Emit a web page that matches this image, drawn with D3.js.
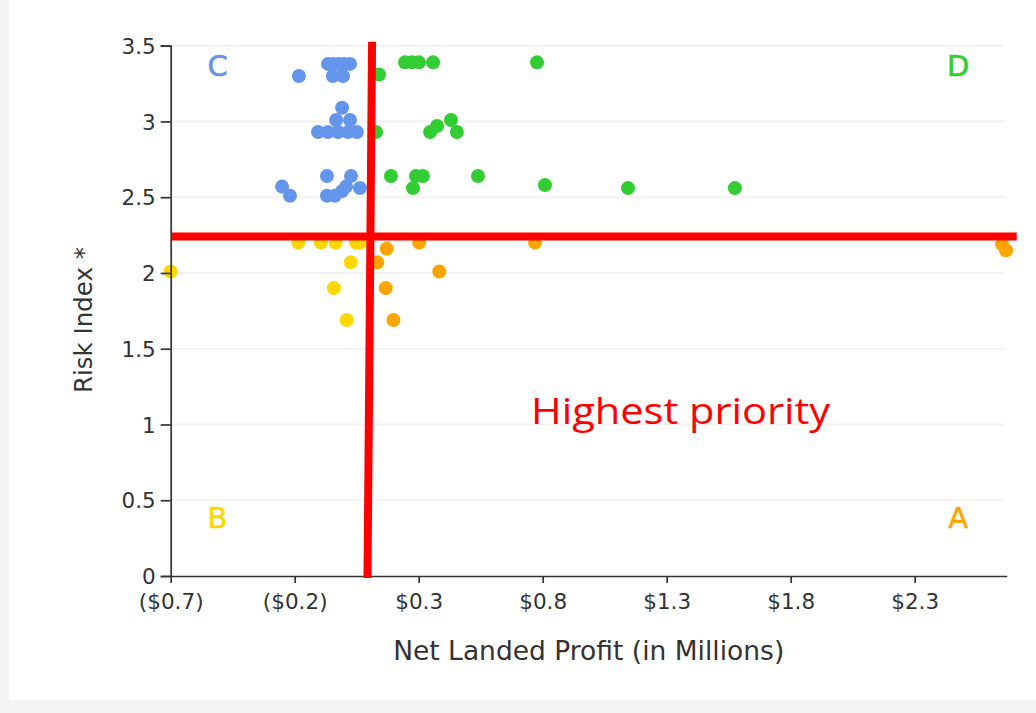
<!DOCTYPE html>
<html>
<head>
<meta charset="utf-8">
<script src="https://cdn.jsdelivr.net/npm/d3@7/dist/d3.min.js"></script>
<style>
  html, body { margin: 0; padding: 0; background: #f4f4f4; }
  svg { display: block; }
</style>
</head>
<body>
<svg id="chart" width="1036" height="713"></svg>
<script>
// ---- Data (Net Landed Profit in $M, Risk Index) ----
const blueX = [-0.183, -0.066, -0.046, -0.021, -0.001, 0.023, -0.046, -0.005, -0.009, -0.033, 0.023, -0.106, -0.066, -0.025, 0.015, 0.051, -0.070, 0.027, -0.251, -0.219, -0.070, -0.038, -0.009, 0.007, 0.063];
const blueY = [3.30, 3.38, 3.38, 3.38, 3.38, 3.38, 3.30, 3.30, 3.09, 3.01, 3.01, 2.93, 2.93, 2.93, 2.93, 2.93, 2.64, 2.64, 2.57, 2.51, 2.51, 2.51, 2.54, 2.57, 2.56];

const greenX = [0.245, 0.273, 0.301, 0.358, 0.777, 0.140, 0.128, 0.346, 0.374, 0.430, 0.454, 0.188, 0.289, 0.317, 0.277, 0.539, 0.809, 1.144, 1.575];
const greenY = [3.39, 3.39, 3.39, 3.39, 3.39, 3.31, 2.93, 2.93, 2.97, 3.01, 2.93, 2.64, 2.64, 2.64, 2.56, 2.64, 2.58, 2.56, 2.56];

const yellowX = [-0.70, -0.186, -0.094, -0.035, 0.047, 0.063, 0.026, -0.042, 0.010];
const yellowY = [2.01, 2.20, 2.20, 2.20, 2.20, 2.20, 2.07, 1.90, 1.69];

const orangeX = [0.171, 0.133, 0.383, 0.167, 0.198, 0.302, 0.769, 2.652, 2.668];
const orangeY = [2.16, 2.07, 2.01, 1.90, 1.69, 2.20, 2.20, 2.19, 2.15];

const xTicks = [-0.7, -0.2, 0.3, 0.8, 1.3, 1.8, 2.3];
const yTicks = [0, 0.5, 1, 1.5, 2, 2.5, 3, 3.5];
const xDomain = [-0.7, 2.671];
const yDomain = [0, 3.5];

// quadrant labels and annotations (data coordinates)
const quadNames = ["C", "D", "B", "A"];
const quadX = [-0.511, 2.475, -0.511, 2.475];
const quadY = [3.30, 3.30, 0.32, 0.32];
const quadColors = ["#6495ED", "#32CD32", "#FFD700", "#FFA500"];

const profitCutTop = 0.112, profitCutBottom = 0.0935; // hand drawn vertical red line
const riskCut = 2.24;                                   // horizontal red line
const noteText = "Highest priority";
const noteX = 0.753, noteY = 1.0;

// ---- Layout ----
const svg = d3.select("#chart");
svg.append("rect").attr("x", 9).attr("y", 0).attr("width", 1027).attr("height", 700).attr("fill", "#ffffff");

const mLeft = 170.7, mRight = 1006.7, mTop = 45.7, mBottom = 576;
const x = d3.scaleLinear().domain(xDomain).range([mLeft, mRight]);
const y = d3.scaleLinear().domain(yDomain).range([mBottom, mTop]);

// grid
svg.append("g").selectAll("line").data(yTicks.filter(d => d > 0)).join("line")
  .attr("x1", mLeft).attr("x2", mRight - 2)
  .attr("y1", d => y(d)).attr("y2", d => y(d))
  .attr("stroke", "#f2f2f2").attr("stroke-width", 2);

// points
const series = [
  {xs: blueX, ys: blueY, color: "#6495ED"},
  {xs: greenX, ys: greenY, color: "#32CD32"},
  {xs: yellowX, ys: yellowY, color: "#FFD700"},
  {xs: orangeX, ys: orangeY, color: "#FFA500"}
];
series.forEach(s => {
  svg.append("g").selectAll("circle").data(s.xs.map((v, i) => [v, s.ys[i]])).join("circle")
    .attr("cx", d => x(d[0])).attr("cy", d => y(d[1])).attr("r", 7).attr("fill", s.color);
});

// axes
const fmt = v => v < 0 ? `($${Math.abs(v).toFixed(1)})` : `$${v.toFixed(1)}`;
const xAxis = svg.append("g").attr("transform", `translate(0,${mBottom})`)
  .call(d3.axisBottom(x).tickValues(xTicks).tickFormat(fmt).tickSize(7).tickSizeOuter(0).tickPadding(11));
const yAxis = svg.append("g").attr("transform", `translate(${mLeft},0)`)
  .call(d3.axisLeft(y).tickValues(yTicks).tickFormat(d3.format("")).tickSize(10).tickSizeOuter(10).tickPadding(5));
[xAxis, yAxis].forEach(a => {
  a.selectAll("path,line").attr("stroke", "#333").attr("stroke-width", 1.7);
  a.selectAll("text").attr("fill", "#333").style("font-family", "'DejaVu Sans', Verdana, sans-serif").style("font-size", "21.5px");
});
yAxis.selectAll("text").attr("dy", "0.36em");

// axis titles
svg.append("text").attr("x", (mLeft + mRight) / 2).attr("y", 660).attr("text-anchor", "middle")
  .style("font-family", "'DejaVu Sans', Verdana, sans-serif").style("font-size", "26.5px").attr("fill", "#333")
  .text("Net Landed Profit (in Millions)");
svg.append("text").attr("transform", "translate(92,320) rotate(-90)").attr("text-anchor", "middle")
  .style("font-family", "'DejaVu Sans', Verdana, sans-serif").style("font-size", "24.5px").attr("fill", "#333")
  .text("Risk Index *");

// quadrant labels
svg.append("g").selectAll("text").data(quadNames).join("text")
  .attr("x", (d, i) => x(quadX[i])).attr("y", (d, i) => y(quadY[i]))
  .attr("text-anchor", "middle").attr("fill", (d, i) => quadColors[i])
  .attr("stroke", (d, i) => quadColors[i]).attr("stroke-width", 0.6)
  .style("font-family", "'DejaVu Sans', Verdana, sans-serif").style("font-size", "29px")
  .text(d => d);

// red annotation lines
svg.append("line").attr("x1", x(profitCutTop)).attr("y1", mTop - 4).attr("x2", x(profitCutBottom)).attr("y2", mBottom + 2)
  .attr("stroke", "#ff0000").attr("stroke-width", 8);
svg.append("line").attr("x1", mLeft + 1).attr("x2", mRight + 10).attr("y1", y(riskCut)).attr("y2", y(riskCut))
  .attr("stroke", "#ff0000").attr("stroke-width", 8);

svg.append("text").attr("x", x(noteX)).attr("y", y(noteY)).attr("fill", "#ff0000")
  .style("font-family", "'Open Sans', Lato, sans-serif").style("font-size", "37px")
  .attr("textLength", 299).attr("lengthAdjust", "spacingAndGlyphs")
  .text(noteText);
</script>
</body>
</html>
